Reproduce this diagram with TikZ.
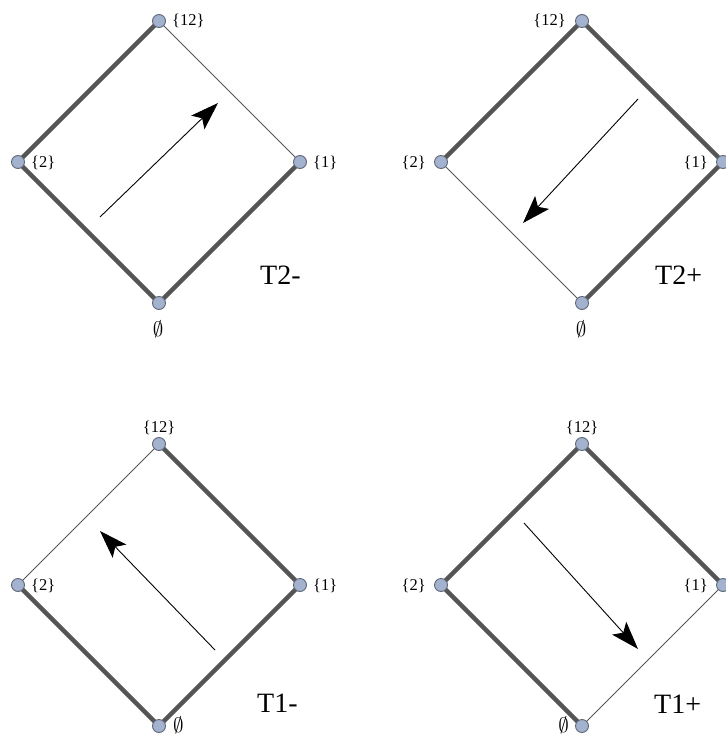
\documentclass[tikz,border=0pt]{standalone}
\usepackage{fontspec}
\usepackage{graphicx}
\setmainfont{Liberation Serif}
\usetikzlibrary{arrows.meta,backgrounds}
\definecolor{vfill}{HTML}{A3B3CF}
\definecolor{vdraw}{HTML}{5F6675}
\definecolor{edgec}{HTML}{555555}
\tikzset{
  vert/.style={circle,fill=vfill,draw=vdraw,line width=0.9pt,minimum size=13pt,inner sep=0pt},
  thickedge/.style={draw=edgec,line width=4.5pt},
  thinedge/.style={draw=edgec,line width=0.8pt},
  flow/.style={draw=black,line width=0.9pt,-{Stealth[length=28pt,width=19pt,inset=6pt]}},
  vlab/.style={font=\fontsize{16.5}{16.5}\selectfont,inner sep=0pt},
  elab/.style={inner sep=0pt},
  tlab/.style={font=\fontsize{28}{28}\selectfont,inner sep=0pt,anchor=base west},
}
\newcommand{\emptysym}{\scalebox{2.1}{$\emptyset$}}
\begin{document}
\begin{tikzpicture}[x=1pt,y=-1pt]
\useasboundingbox (0,0) rectangle (725,735);
% ---------- top left: T2- ----------
\node[vert] (a12) at (159,21) {};
\node[vert] (a2) at (18,162) {};
\node[vert] (a1) at (300,162) {};
\node[vert] (a0) at (159,303) {};
\node[vlab,anchor=west] (la12) at (172,21) {\{12\}};
\node[vlab,anchor=west] (la2) at (31,163) {\{2\}};
\node[vlab,anchor=west] (la1) at (313,163) {\{1\}};
\node[elab] (la0) at (158,329) {\emptysym};
\node[tlab] (ta) at (260,284) {T2-};
\coordinate (as) at (100,217);
\coordinate (ae) at (218,103);
% ---------- top right: T2+ ----------
\node[vert] (b12) at (582,21) {};
\node[vert] (b2) at (441,162) {};
\node[vert] (b1) at (723,162) {};
\node[vert] (b0) at (582,303) {};
\node[vlab,anchor=east] (lb12) at (566,21) {\{12\}};
\node[vlab,anchor=east] (lb2) at (426,163) {\{2\}};
\node[vlab,anchor=east] (lb1) at (708,163) {\{1\}};
\node[elab] (lb0) at (581,329) {\emptysym};
\node[tlab] (tb) at (655,284) {T2+};
\coordinate (bs) at (638,99);
\coordinate (be) at (523,223);
% ---------- bottom left: T1- ----------
\node[vert] (c12) at (159,444) {};
\node[vert] (c2) at (18,585) {};
\node[vert] (c1) at (300,585) {};
\node[vert] (c0) at (159,726) {};
\node[vlab] (lc12) at (159,428) {\{12\}};
\node[vlab,anchor=west] (lc2) at (31,586) {\{2\}};
\node[vlab,anchor=west] (lc1) at (313,586) {\{1\}};
\node[elab,anchor=west] (lc0) at (173,725) {\emptysym};
\node[tlab] (tc) at (257,712) {T1-};
\coordinate (cs) at (215,650);
\coordinate (ce) at (100,531);
% ---------- bottom right: T1+ ----------
\node[vert] (d12) at (582,444) {};
\node[vert] (d2) at (441,585) {};
\node[vert] (d1) at (723,585) {};
\node[vert] (d0) at (582,726) {};
\node[vlab] (ld12) at (582,428) {\{12\}};
\node[vlab,anchor=east] (ld2) at (426,586) {\{2\}};
\node[vlab,anchor=east] (ld1) at (708,586) {\{1\}};
\node[elab,anchor=east] (ld0) at (569,725) {\emptysym};
\node[tlab] (td) at (654,713) {T1+};
\coordinate (ds) at (524,523);
\coordinate (de) at (638,649);
% ---------- edges ----------
\begin{pgfonlayer}{background}
  \draw[thickedge] (a12.center) -- (a2.center);
  \draw[thickedge] (a2.center) -- (a0.center);
  \draw[thickedge] (a0.center) -- (a1.center);
  \draw[thinedge] (a1.center) -- (a12.center);
  \draw[thickedge] (b12.center) -- (b2.center);
  \draw[thickedge] (b12.center) -- (b1.center);
  \draw[thickedge] (b1.center) -- (b0.center);
  \draw[thinedge] (b2.center) -- (b0.center);
  \draw[thinedge] (c12.center) -- (c2.center);
  \draw[thickedge] (c12.center) -- (c1.center);
  \draw[thickedge] (c1.center) -- (c0.center);
  \draw[thickedge] (c2.center) -- (c0.center);
  \draw[thickedge] (d12.center) -- (d2.center);
  \draw[thickedge] (d12.center) -- (d1.center);
  \draw[thickedge] (d2.center) -- (d0.center);
  \draw[thinedge] (d1.center) -- (d0.center);
\end{pgfonlayer}
% ---------- arrows ----------
\draw[flow] (as) -- (ae);
\draw[flow] (bs) -- (be);
\draw[flow] (cs) -- (ce);
\draw[flow] (ds) -- (de);
\end{tikzpicture}
\end{document}
